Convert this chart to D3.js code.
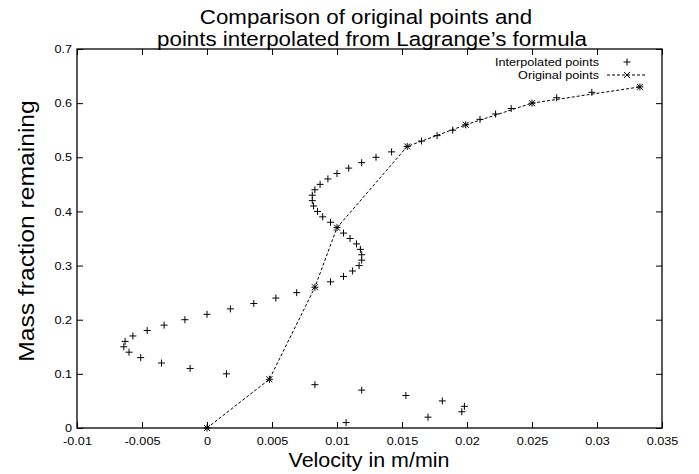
<!DOCTYPE html>
<html>
<head>
<meta charset="utf-8">
<script src="https://cdn.jsdelivr.net/npm/d3@7"></script>
<style>
	body { margin: 0; background: #fff; }
	svg { display: block; }
</style>
</head>
<body>
<div class="chart"></div>
<script>
// Original (measured) points.
var origVelocity = [0, 0.0048, 0.0083, 0.0100, 0.0154, 0.0199, 0.0250, 0.0333];
var origMass = [0, 0.09, 0.26, 0.37, 0.52, 0.56, 0.60, 0.63];

// Points interpolated from Lagrange's formula.
var interpMass = [0, 0.01, 0.02, 0.03, 0.04, 0.05, 0.06, 0.07, 0.08, 0.09,
	0.10, 0.11, 0.12, 0.13, 0.14, 0.15, 0.16, 0.17, 0.18, 0.19,
	0.20, 0.21, 0.22, 0.23, 0.24, 0.25, 0.26, 0.27, 0.28, 0.29,
	0.30, 0.31, 0.32, 0.33, 0.34, 0.35, 0.36, 0.37, 0.38, 0.39,
	0.40, 0.41, 0.42, 0.43, 0.44, 0.45, 0.46, 0.47, 0.48, 0.49,
	0.50, 0.51, 0.52, 0.53, 0.54, 0.55, 0.56, 0.57, 0.58, 0.59,
	0.60, 0.61, 0.62, 0.63];
var interpVelocity = [0, 0.0107, 0.0170, 0.0196, 0.0198, 0.0181, 0.0153, 0.0119, 0.0083, 0.0048,
	0.0015, -0.0013, -0.0035, -0.0051, -0.0060, -0.0064, -0.0063, -0.0057, -0.0046, -0.0033,
	-0.0017, 0.0000, 0.0018, 0.0036, 0.0053, 0.0069, 0.0083, 0.0095, 0.0105, 0.0112,
	0.0117, 0.0119, 0.0119, 0.0118, 0.0115, 0.0110, 0.0105, 0.0100, 0.0095, 0.0089,
	0.0085, 0.0082, 0.0081, 0.0081, 0.0083, 0.0087, 0.0093, 0.0100, 0.0109, 0.0119,
	0.0130, 0.0142, 0.0154, 0.0165, 0.0177, 0.0189, 0.0199, 0.0210, 0.0222, 0.0234,
	0.0250, 0.0269, 0.0296, 0.0333];

var xTicks = [-0.01, -0.005, 0, 0.005, 0.01, 0.015, 0.02, 0.025, 0.03, 0.035];
var xTickLabels = ['-0.01', '-0.005', '0', '0.005', '0.01', '0.015', '0.02', '0.025', '0.03', '0.035'];
var yTicks = [0, 0.1, 0.2, 0.3, 0.4, 0.5, 0.6, 0.7];
var yTickLabels = ['0', '0.1', '0.2', '0.3', '0.4', '0.5', '0.6', '0.7'];

var totalWidth = 699, totalHeight = 474;
var margin = {top: 49, left: 77, bottom: 46, right: 37};
var width = totalWidth - margin.left - margin.right;
var height = totalHeight - margin.top - margin.bottom;
var font = '"Liberation Sans", Arial, Helvetica, sans-serif';
// the reference's lettering is a bit wider than Liberation Sans
var stretch = 1.1;

function widen(sel, factor) {
	sel.each(function() {
		var len = this.getComputedTextLength();
		d3.select(this)
			.attr('textLength', len * (factor || stretch))
			.attr('lengthAdjust', 'spacingAndGlyphs');
	});
	return sel;
}

var x = d3.scaleLinear().domain([-0.01, 0.035]).range([0, width]);
var y = d3.scaleLinear().domain([0, 0.7]).range([height, 0]);

var svg = d3.select('.chart').append('svg')
	.attr('width', totalWidth)
	.attr('height', totalHeight)
	.attr('font-family', font);

// Title
svg.append('text')
	.attr('x', 366).attr('y', 24)
	.attr('text-anchor', 'middle')
	.attr('font-size', '20.5px')
	.text('Comparison of original points and')
	.call(widen, 1.088);
svg.append('text')
	.attr('x', 372).attr('y', 45.7)
	.attr('text-anchor', 'middle')
	.attr('font-size', '20.5px')
	.text('points interpolated from Lagrange\u2019s formula')
	.call(widen, 1.088);

var g = svg.append('g')
	.attr('transform', 'translate(' + margin.left + ',' + margin.top + ')');

// Axes, gnuplot style: ticks pointing inwards on all four sides.
function styleAxis(sel) {
	sel.select('.domain').remove();
	sel.selectAll('.tick line').attr('stroke', '#000').attr('stroke-width', 1);
	sel.selectAll('.tick text')
		.attr('fill', '#000')
		.attr('font-size', '11.5px')
		.attr('font-family', font)
		.call(widen);
}
g.append('g')
	.attr('transform', 'translate(0,' + height + ')')
	.call(d3.axisBottom(x).tickValues(xTicks).tickSizeInner(-6).tickSizeOuter(0).tickPadding(9)
		.tickFormat(function(d, i) { return xTickLabels[i]; }))
	.call(styleAxis);
g.append('g')
	.call(d3.axisTop(x).tickValues(xTicks).tickSizeInner(-6).tickSizeOuter(0).tickFormat(''))
	.call(styleAxis);
g.append('g')
	.call(d3.axisLeft(y).tickValues(yTicks).tickSizeInner(-6).tickSizeOuter(0).tickPadding(5)
		.tickFormat(function(d, i) { return yTickLabels[i]; }))
	.call(styleAxis);
g.append('g')
	.attr('transform', 'translate(' + width + ',0)')
	.call(d3.axisRight(y).tickValues(yTicks).tickSizeInner(-6).tickSizeOuter(0).tickFormat(''))
	.call(styleAxis);

g.append('rect')
	.attr('width', width)
	.attr('height', height)
	.attr('fill', 'none')
	.attr('stroke', '#000')
	.attr('stroke-width', 1.3);

// Axis labels
svg.append('text')
	.attr('x', 369)
	.attr('y', 467)
	.attr('text-anchor', 'middle')
	.attr('font-size', '19.5px')
	.text('Velocity in m/min')
	.call(widen);
svg.append('text')
	.attr('transform', 'translate(34,231) rotate(-90)')
	.attr('text-anchor', 'middle')
	.attr('font-size', '22px')
	.text('Mass fraction remaining')
	.call(widen, 1.12);

function plus(sel, size) {
	return sel.append('path')
		.attr('d', 'M' + (-size) + ',0H' + size + 'M0,' + (-size) + 'V' + size)
		.attr('stroke', '#000')
		.attr('stroke-width', 1)
		.attr('fill', 'none');
}
function cross(sel, size) {
	return sel.append('path')
		.attr('d', 'M' + (-size) + ',' + (-size) + 'L' + size + ',' + size + 'M' + (-size) + ',' + size + 'L' + size + ',' + (-size))
		.attr('stroke', '#000')
		.attr('stroke-width', 1)
		.attr('fill', 'none');
}

// Original points joined with a dashed line
var orig = origVelocity.map(function(v, i) { return [v, origMass[i]]; });
g.append('path')
	.datum(orig)
	.attr('d', d3.line().x(function(d) { return x(d[0]); }).y(function(d) { return y(d[1]); }))
	.attr('fill', 'none')
	.attr('stroke', '#000')
	.attr('stroke-width', 1)
	.attr('stroke-dasharray', '3,2');
g.selectAll('.orig').data(orig).enter().append('g')
	.attr('class', 'orig')
	.attr('transform', function(d) { return 'translate(' + x(d[0]) + ',' + y(d[1]) + ')'; })
	.each(function() { cross(d3.select(this), 3); });

// Interpolated points
var interp = interpVelocity.map(function(v, i) { return [v, interpMass[i]]; });
g.selectAll('.interp').data(interp).enter().append('g')
	.attr('class', 'interp')
	.attr('transform', function(d) { return 'translate(' + x(d[0]) + ',' + y(d[1]) + ')'; })
	.each(function() { plus(d3.select(this), 3.5); });

// Legend
var legend = svg.append('g').attr('font-size', '11.5px');
legend.append('text').attr('x', 599).attr('y', 65.5).attr('text-anchor', 'end')
	.text('Interpolated points').call(widen);
legend.append('text').attr('x', 599).attr('y', 78.5).attr('text-anchor', 'end')
	.text('Original points').call(widen);
plus(legend.append('g').attr('transform', 'translate(627,62)'), 3.5);
legend.append('line')
	.attr('x1', 607).attr('x2', 646).attr('y1', 75).attr('y2', 75)
	.attr('stroke', '#000').attr('stroke-width', 1).attr('stroke-dasharray', '3,2');
cross(legend.append('g').attr('transform', 'translate(627,75)'), 3);
</script>
</body>
</html>
